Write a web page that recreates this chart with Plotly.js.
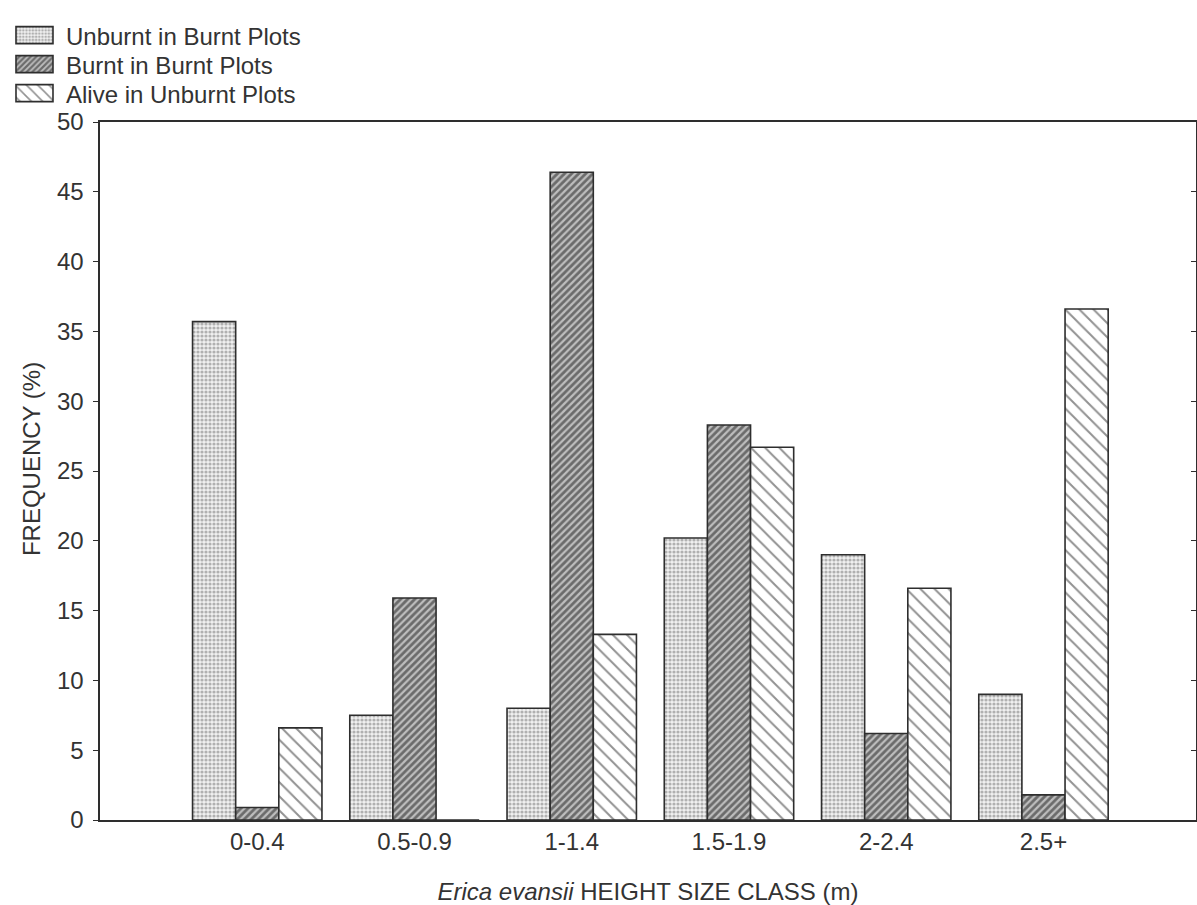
<!DOCTYPE html>
<html>
<head>
<meta charset="utf-8">
<script src="https://cdn.plot.ly/plotly-3.0.1.min.js"></script>
<style>
  html, body { margin: 0; padding: 0; background: #ffffff; }
  #chart { width: 1197px; height: 905px; }
</style>
</head>
<body>
<div id="chart"></div>
<script>
// Data
const categories = ["0-0.4", "0.5-0.9", "1-1.4", "1.5-1.9", "2-2.4", "2.5+"];
const unburntInBurnt = [35.7, 7.5, 8.0, 20.2, 19.0, 9.0];
const burntInBurnt   = [0.9, 15.9, 46.4, 28.3, 6.2, 1.8];
const aliveInUnburnt = [6.6, 0, 13.3, 26.7, 16.6, 36.6];
const seriesNames = ["Unburnt in Burnt Plots", "Burnt in Burnt Plots", "Alive in Unburnt Plots"];
const yTicks = [0, 5, 10, 15, 20, 25, 30, 35, 40, 45, 50];
const xTitle = "<i>Erica evansii</i> HEIGHT SIZE CLASS (m)";
const yTitle = "FREQUENCY (%)";

const textColor = "#333333";
const lineColor = "#2e2e2e";
const edge = {color: lineColor, width: 1.6};

const traces = [
  {
    type: "bar", name: seriesNames[0], x: categories, y: unburntInBurnt,
    marker: {color: "#eeeeee", line: edge,
      pattern: {shape: ".", size: 4, solidity: 0.5, fgcolor: "#707070", bgcolor: "#f0f0f0", fillmode: "overlay"}}
  },
  {
    type: "bar", name: seriesNames[1], x: categories, y: burntInBurnt,
    marker: {color: "#9a9a9a", line: edge,
      pattern: {shape: "/", size: 5, solidity: 0.55, fgcolor: "#1a1a1a", bgcolor: "#bdbdbd", fillmode: "overlay"}}
  },
  {
    type: "bar", name: seriesNames[2], x: categories, y: aliveInUnburnt,
    marker: {color: "#ffffff", line: edge,
      pattern: {shape: "\\", size: 10, solidity: 0.2, fgcolor: "#262626", bgcolor: "#ffffff", fillmode: "overlay"}}
  },
  {
    // invisible helper so the right-hand mirrored axis is drawn
    type: "scatter", x: [categories[0]], y: [0], yaxis: "y2", mode: "markers",
    marker: {opacity: 0}, showlegend: false, hoverinfo: "skip"
  }
];

const layout = {
  width: 1197, height: 905,
  paper_bgcolor: "#ffffff", plot_bgcolor: "#ffffff",
  margin: {l: 100, r: 1, t: 122, b: 85, autoexpand: false},
  font: {family: "Liberation Sans, Arial, sans-serif", size: 24, color: textColor},
  barmode: "group", bargap: 0.177, bargroupgap: 0,
  showlegend: true,
  legend: {
    xref: "container", yref: "container", x: 0.0025, y: 0.9856, xanchor: "left", yanchor: "top",
    font: {size: 24, color: textColor}, bgcolor: "rgba(0,0,0,0)", tracegroupgap: 0,
    itemwidth: 53
  },
  xaxis: {
    type: "category", range: [-1, 5.97],
    showline: true, linecolor: lineColor, linewidth: 1.6, mirror: true,
    ticks: "", showgrid: false, zeroline: false,
    tickfont: {size: 24, color: textColor},
    title: {text: xTitle, font: {size: 24, color: textColor}}
  },
  yaxis: {
    range: [0, 50], tickvals: yTicks, ticktext: yTicks.map(String),
    showline: true, linecolor: lineColor, linewidth: 1.6,
    ticks: "outside", ticklen: 5, tickcolor: lineColor, ticklabelstandoff: 5,
    showgrid: false, zeroline: false,
    tickfont: {size: 24, color: textColor},
    title: {text: ""}
  },
  yaxis2: {
    overlaying: "y", side: "right", range: [0, 50], tickvals: yTicks,
    showticklabels: false, ticks: "inside", ticklen: 5, tickcolor: lineColor,
    showline: true, linecolor: lineColor, linewidth: 1.6,
    showgrid: false, zeroline: false
  },
  annotations: [{
    text: yTitle, textangle: -90, showarrow: false,
    xref: "paper", yref: "paper", x: -0.063, y: 0.517, xanchor: "center", yanchor: "middle",
    font: {size: 24, color: textColor}
  }]
};

const LEGEND_ROW = 29;

Plotly.newPlot("chart", traces, layout, {displayModeBar: false, staticPlot: true}).then(gd => {
  const items = gd.querySelectorAll(".legend .traces");
  let firstY = null;
  items.forEach((g, i) => {
    const m = /translate\(\s*([-\d.]+)[ ,]+([-\d.]+)\s*\)/.exec(g.getAttribute("transform") || "");
    if (m) {
      if (firstY === null) firstY = parseFloat(m[2]);
      g.setAttribute("transform", "translate(" + m[1] + "," + (firstY + i * LEGEND_ROW) + ")");
    }
    g.querySelectorAll(".legendpoints path").forEach(p => p.setAttribute("d", "M18.5,8.5H-18.5V-8.5H18.5Z"));
  });
});
</script>
</body>
</html>
